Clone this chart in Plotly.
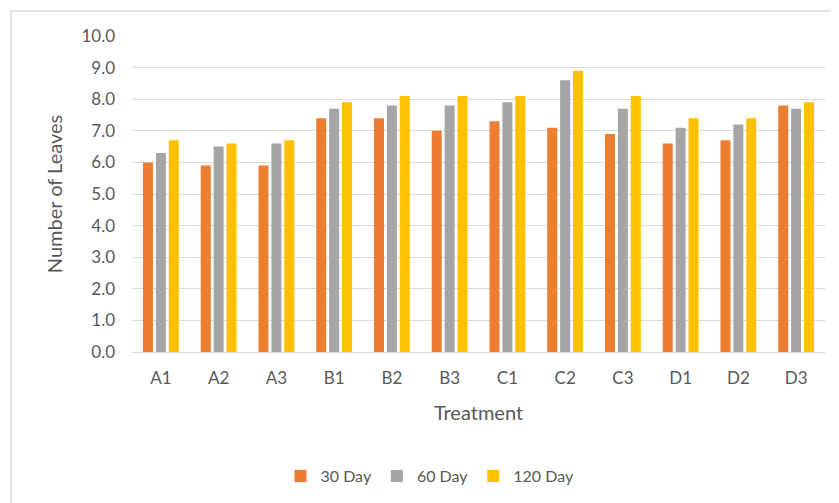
import plotly.graph_objects as go

categories = ["A1", "A2", "A3", "B1", "B2", "B3", "C1", "C2", "C3", "D1", "D2", "D3"]
day30 = [6.0, 5.9, 5.9, 7.4, 7.4, 7.0, 7.3, 7.1, 6.9, 6.6, 6.7, 7.8]
day60 = [6.3, 6.5, 6.6, 7.7, 7.8, 7.8, 7.9, 8.6, 7.7, 7.1, 7.2, 7.7]
day120 = [6.7, 6.6, 6.7, 7.9, 8.1, 8.1, 8.1, 8.9, 8.1, 7.4, 7.4, 7.9]
series_names = ["30 Day", "60 Day", "120 Day"]
colors = ["#ED7D31", "#A5A5A5", "#FFC000"]
y_ticks = [0, 1, 2, 3, 4, 5, 6, 7, 8, 9, 10]

font_family = "Lato, 'Open Sans', sans-serif"
txt = "#595959"

fig = go.Figure()
for name, vals, c in zip(series_names, [day30, day60, day120], colors):
    fig.add_trace(go.Bar(x=categories, y=vals, name=name, marker=dict(color=c, line=dict(width=0))))

OFF = 8  # page body margin
W, H = 839 - OFF, 503 - OFF
L, R, T, B = 132 - OFF, 14, 36 - OFF, 150
pw, ph = W - L - R, H - T - B

def px_x(x):
    return (x - OFF - L) / pw

def px_y(y):
    return (H - B - (y - OFF)) / ph

fig.update_layout(
    width=W, height=H,
    margin=dict(l=L, r=R, t=T, b=B),
    paper_bgcolor="white", plot_bgcolor="white",
    barmode="group", bargap=0.33, bargroupgap=0.225,
    font=dict(family=font_family, size=16, color=txt),
    showlegend=True,
    legend=dict(orientation="h", x=px_x(430), xanchor="center",
                y=px_y(476), yanchor="middle",
                font=dict(size=16, color=txt), itemwidth=30,
                traceorder="normal"),
    xaxis=dict(title=dict(text="Treatment", font=dict(size=20, color=txt), standoff=18),
               showgrid=False, showline=False, ticks="", ticklabelstandoff=14,
               tickfont=dict(size=17, color=txt)),
    yaxis=dict(title=dict(text="Number of Leaves", font=dict(size=20, color=txt), standoff=13),
               range=[0, 10], tickvals=y_ticks, tickformat=".1f",
               showgrid=True, gridcolor="#d9d9d9", gridwidth=1,
               zeroline=True, zerolinecolor="#d9d9d9", zerolinewidth=1,
               showline=False, ticks="", ticklabelstandoff=16,
               tickfont=dict(size=17, color=txt)),
    shapes=[dict(type="rect", xref="paper", yref="paper",
                 x0=px_x(11), x1=px_x(860),
                 y0=px_y(530), y1=px_y(11),
                 line=dict(color="#d9d9d9", width=1.5), fillcolor="rgba(0,0,0,0)", layer="below")],
)

fig.write_html("out.html")
